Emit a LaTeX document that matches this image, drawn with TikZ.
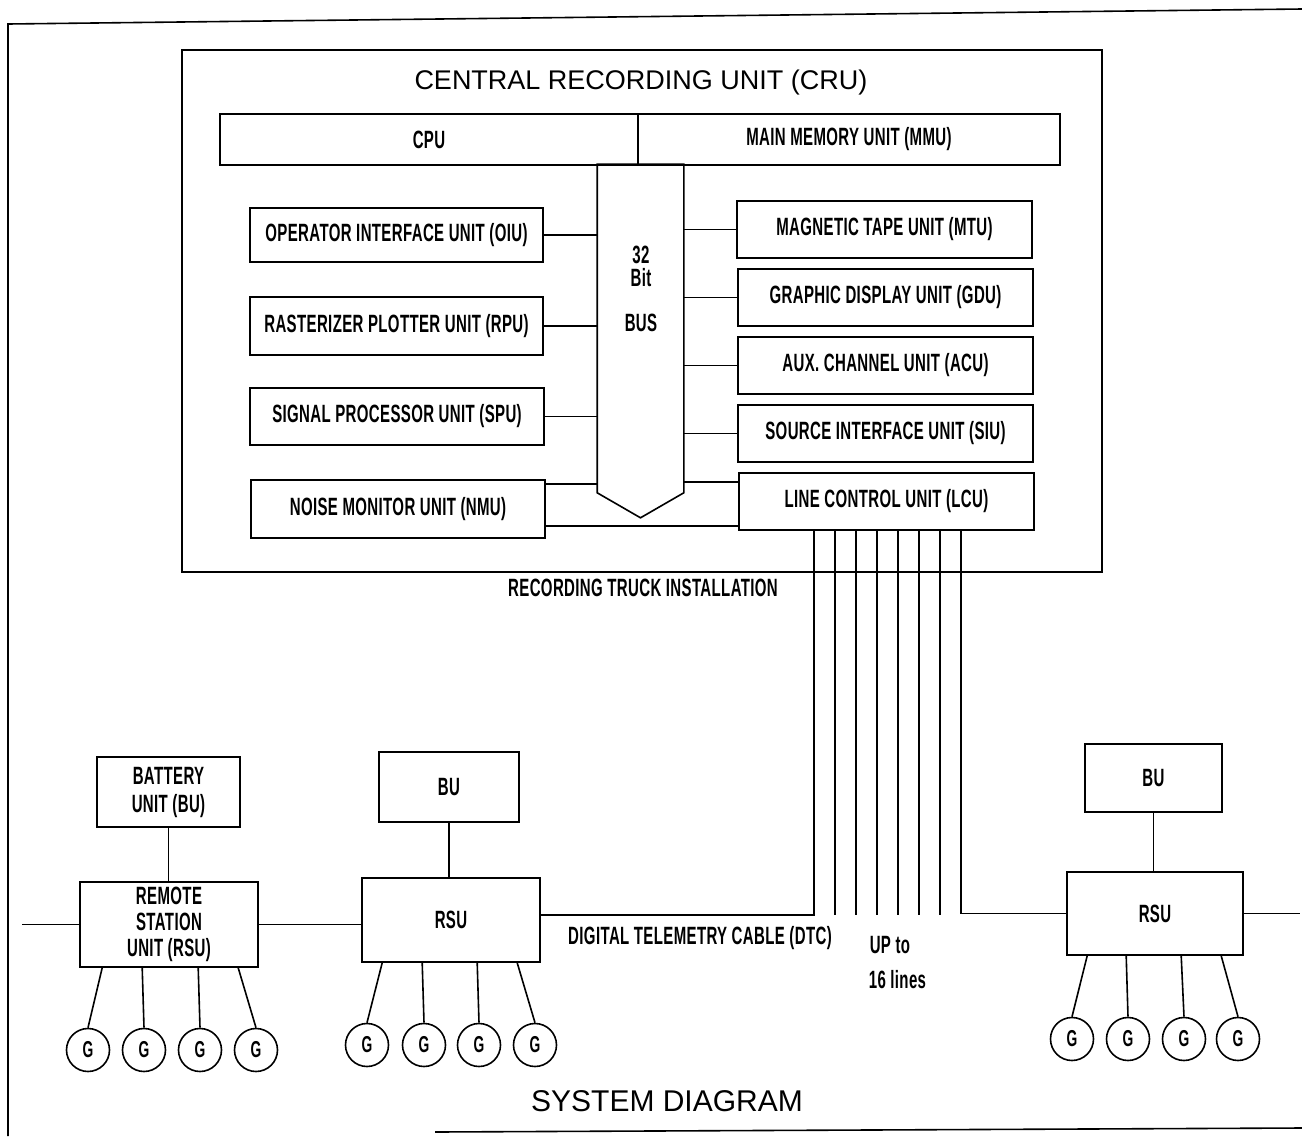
\documentclass[tikz,border=0pt]{standalone}
\usepackage{fontspec}
\setmainfont{Liberation Sans}
\newfontfamily\condfont[FakeStretch=0.6, LetterSpace=1.5]{Liberation Sans Bold}
\usetikzlibrary{calc}
\begin{document}
\begin{tikzpicture}[x=1pt,y=-1pt, line width=1.6pt,
 box/.style={draw, rectangle, inner sep=0pt, font=\condfont\fontsize{25}{26}\selectfont, align=center},
 lbl/.style={inner sep=0pt, font=\condfont\fontsize{25}{26}\selectfont},
 geo/.style={draw, circle, minimum size=43pt, inner sep=0pt, font=\condfont\fontsize{23}{25}\selectfont},
 ]
\useasboundingbox (0,0) rectangle (1302,1136);
% outer frame
\draw (8,1136) -- (8,24) -- (1302,9);
\draw (435,1132) -- (1302,1128);

% central recording unit
\node[draw, minimum width=920pt, minimum height=522pt, inner sep=0pt] (cru) at (642,311) {};
\node[inner sep=0pt, font=\fontsize{27}{30}\selectfont] (crutitle) at (641,83) {CENTRAL RECORDING UNIT (CRU)};

\node[box, minimum width=418pt, minimum height=51pt] (cpu) at (429,139.5) {CPU};
\node[box, minimum width=422pt, minimum height=51pt] (mmu) at (849,139.5) {MAIN MEMORY UNIT (MMU)};

% bus
\node[minimum width=85pt, minimum height=327pt, inner sep=0pt] (bus) at (640.5,328.5) {};
\draw (bus.north west) -- (bus.north east) -- (bus.south east) -- ($(bus.south)+(0,25)$) -- (bus.south west) -- cycle;
\node[lbl] (b32) at (641,255) {32};
\node[lbl] (bbit) at (641,278) {Bit};
\node[lbl] (bbus) at (641,323) {BUS};

% left units
\node[box, minimum width=293pt, minimum height=54pt] (oiu) at (396.5,235) {OPERATOR INTERFACE UNIT (OIU)};
\node[box, minimum width=293pt, minimum height=58pt] (rpu) at (396.5,326) {RASTERIZER PLOTTER UNIT (RPU)};
\node[box, minimum width=294pt, minimum height=57pt] (spu) at (397,416.5) {SIGNAL PROCESSOR UNIT (SPU)};
\node[box, minimum width=294pt, minimum height=58pt] (nmu) at (398,509) {NOISE MONITOR UNIT (NMU)};

% right units
\node[box, minimum width=295pt, minimum height=57pt] (mtu) at (884.5,229.5) {MAGNETIC TAPE UNIT (MTU)};
\node[box, minimum width=295pt, minimum height=57pt] (gdu) at (885.5,297.5) {GRAPHIC DISPLAY UNIT (GDU)};
\node[box, minimum width=295pt, minimum height=57pt] (acu) at (885.5,365.5) {AUX. CHANNEL UNIT (ACU)};
\node[box, minimum width=295pt, minimum height=57pt] (siu) at (885.5,433.5) {SOURCE INTERFACE UNIT (SIU)};
\node[box, minimum width=295pt, minimum height=57pt] (lcu) at (886.5,501.5) {LINE CONTROL UNIT (LCU)};

% bus connections
\foreach \n in {oiu,rpu,spu} \draw (\n.east) -- (\n.east -| bus.west);
\foreach \n in {mtu,gdu,acu,siu} \draw (\n.west) -- (\n.west -| bus.east);
\draw ([yshift=-5pt]nmu.north east) -- ([yshift=-5pt]nmu.north east -| bus.west);
\draw ([yshift=-10pt]lcu.north west) -- ([yshift=-10pt]lcu.north west -| bus.east);
\draw ([yshift=13pt]nmu.south east) -- ([yshift=13pt]nmu.south east -| lcu.west);

\node[lbl] (rti) at (643,588) {RECORDING TRUCK INSTALLATION};

% field units
\node[box, minimum width=143pt, minimum height=70pt] (bat) at (168.5,792) {BATTERY\\[2pt]UNIT (BU)};
\node[box, minimum width=178pt, minimum height=85pt] (rsu1) at (169,924.5) {REMOTE\\STATION\\UNIT (RSU)};
\node[box, minimum width=140pt, minimum height=70pt] (bu2) at (449,787) {BU};
\node[box, minimum width=178pt, minimum height=84pt] (rsu2) at (451,920) {RSU};
\node[box, minimum width=137pt, minimum height=68pt] (bu3) at (1153.5,778) {BU};
\node[box, minimum width=176pt, minimum height=83pt] (rsu3) at (1155,913.5) {RSU};

\draw (bat.south) -- (bat.south |- rsu1.north);
\draw (bu2.south) -- (bu2.south |- rsu2.north);
\draw (bu3.south) -- (bu3.south |- rsu3.north);

\coordinate (lstub) at (22,924.5);
\coordinate (rstub) at (1300,913.5);
\draw (rsu1.west) -- (lstub);
\draw (rsu1.east) -- (rsu1.east -| rsu2.west);
\draw (rsu3.east) -- (rstub);

% telemetry cables from LCU
\foreach \i in {0,...,7} \coordinate (c\i) at ({814+21*\i},530);
\draw (c0) |- ([yshift=5pt]rsu2.east);
\foreach \i in {1,...,6} \draw (c\i) -- ++(0,385);
\draw (c7) |- (rsu3.west);

\node[lbl] (dtc) at (700,938) {DIGITAL TELEMETRY CABLE (DTC)};
\node[lbl, anchor=west] (up) at (869,945) {UP to};
\node[lbl, anchor=west] (lines) at (868,980) {16 lines};

% geophones
\foreach \x [count=\k] in {88,144,200,256} \node[geo] (ga\k) at (\x,1050) {G};
\foreach \x [count=\k] in {367,424,479,535} \node[geo] (gb\k) at (\x,1045) {G};
\foreach \x [count=\k] in {1072,1128,1184,1238} \node[geo] (gc\k) at (\x,1039) {G};
\foreach \o [count=\k] in {23,63,119,159} \draw ([xshift=\o pt]rsu1.south west) -- (ga\k.north);
\foreach \o [count=\k] in {21,61,116,156} \draw ([xshift=\o pt]rsu2.south west) -- (gb\k.north);
\foreach \o [count=\k] in {21,60,115,155} \draw ([xshift=\o pt]rsu3.south west) -- (gc\k.north);

\node[inner sep=0pt, font=\fontsize{30}{32}\selectfont] (sys) at (667,1101) {SYSTEM DIAGRAM};
\end{tikzpicture}
\end{document}
